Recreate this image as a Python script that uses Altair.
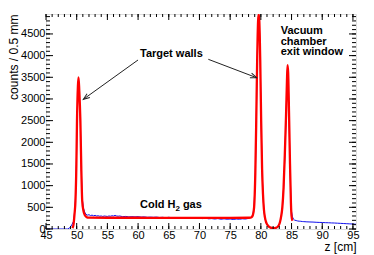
import altair as alt
import pandas as pd

# ---- measured histogram (blue) ----
blue_z = [45.0, 48.5, 48.75, 49.0, 49.25, 49.5, 49.65, 49.8, 49.95, 50.05, 50.2, 50.3, 50.42, 50.6, 50.75, 50.9,
          51.1, 51.3, 51.5, 51.75, 52.0, 52.25, 52.5, 52.75, 53.0, 53.25, 53.5, 53.75, 54.0, 54.25, 54.5, 54.75,
          55.0, 55.25, 55.5, 55.75, 56.0, 56.25, 56.5, 56.75, 57.0, 57.5, 58.0, 58.5, 59.0, 59.5, 60.0, 60.5,
          61.0, 61.5, 62.0, 62.5, 63.0, 63.5, 64.0, 64.5, 65.0, 65.5, 66.0, 66.5, 67.0, 67.5, 68.0, 68.5,
          69.0, 69.5, 70.0, 70.5, 71.0, 71.5, 72.0, 72.5, 73.0, 73.5, 74.0, 74.5, 75.0, 75.5, 76.0, 76.5,
          77.0, 77.5, 78.0, 78.3, 78.5, 78.7, 78.9, 79.1, 79.25, 79.4, 79.55, 79.65, 79.75, 79.9, 80.05, 80.2,
          80.35, 80.5, 80.65, 80.9, 81.2, 81.6, 82.0, 82.4, 82.8, 83.1, 83.3, 83.5, 83.7, 83.9, 84.1, 84.25,
          84.35, 84.45, 84.6, 84.75, 84.9, 85.0, 85.15, 85.3, 85.5, 85.75, 86.0, 86.25, 86.5, 86.75, 87.0, 87.5,
          88.0, 88.5, 89.0, 89.5, 90.0, 90.5, 91.0, 91.5, 92.0, 92.5, 93.0, 93.5, 94.0, 94.5, 95.0, 95.5]
blue_c = [0, 0, 15, 50, 110, 180, 380, 700, 1500, 2400, 3250, 3450, 3150, 2450, 1380, 700,
          480, 390, 340, 320, 330, 310, 320, 305, 315, 300, 305, 295, 300, 290, 300, 295,
          290, 300, 295, 305, 300, 315, 300, 295, 300, 285, 290, 280, 285, 280, 285, 275,
          280, 270, 275, 270, 275, 265, 270, 260, 270, 260, 265, 255, 265, 255, 260, 250,
          255, 245, 250, 240, 250, 235, 240, 230, 240, 225, 235, 225, 230, 220, 230, 225,
          235, 230, 245, 260, 280, 330, 520, 1250, 2450, 3850, 4750, 4920, 4780, 3850, 2450, 1350,
          780, 430, 260, 130, 60, 20, 10, 15, 50, 140, 270, 480, 930, 1650, 2550, 3350,
          3720, 3550, 2550, 1450, 650, 400, 280, 230, 205, 195, 185, 180, 178, 172, 170, 165,
          162, 160, 155, 152, 150, 146, 144, 140, 138, 134, 130, 126, 122, 118, 115, 110]

# ---- fit curve (red) ----
red_z = [49.3, 49.5, 49.65, 49.8, 49.95, 50.05, 50.2, 50.3, 50.42, 50.6, 50.75, 50.9, 51.1, 51.3, 51.5, 51.8,
         52.0, 55.0, 60.0, 65.0, 70.0, 75.0, 78.0, 78.3, 78.5, 78.7, 78.9, 79.1, 79.25, 79.4, 79.55, 79.65,
         79.75, 79.9, 80.05, 80.2, 80.35, 80.5, 80.65, 80.9, 81.2, 81.6, 82.0, 82.4, 82.8, 83.1, 83.3, 83.5,
         83.7, 83.9, 84.1, 84.25, 84.35, 84.45, 84.6, 84.75, 84.9, 85.0, 85.15]
red_c = [20, 120, 350, 650, 1500, 2500, 3300, 3500, 3200, 2500, 1400, 650, 420, 330, 290, 265,
         262, 260, 259, 258, 258, 258, 260, 263, 275, 320, 500, 1300, 2500, 3900, 4800, 4950,
         4800, 3900, 2500, 1400, 800, 450, 280, 140, 70, 30, 20, 25, 60, 150, 285, 500,
         950, 1700, 2600, 3400, 3780, 3600, 2600, 1500, 600, 300, 190]

# ---- axes ----
x_major = [45, 50, 55, 60, 65, 70, 75, 80, 85, 90, 95]
x_minor = list(range(45, 96))
y_major = [0, 500, 1000, 1500, 2000, 2500, 3000, 3500, 4000, 4500]
y_minor = list(range(0, 4901, 100))

# ---- annotations ----
notes_text = ["Target walls", "Vacuum", "chamber", "exit window", "Cold H"]
notes_z = [60.31, 83.23, 83.23, 83.23, 60.31]
notes_c = [3961, 4499, 4238, 4014, 496]

arrow_z = [59.99, 71.44]
arrow_c = [3899, 3915]
arrow_z2 = [51.08, 79.32]
arrow_c2 = [2992, 3490]
arrow_angle = [234.3, 110.8]

W, H = 310, 215
FONT = "Liberation Sans"

xs = alt.Scale(domain=[45, 95.5], nice=False, zero=False)
ys = alt.Scale(domain=[0, 4960], nice=False, zero=False)

x_axis = alt.Axis(values=x_major, format="d", title="z [cm]", grid=False, domain=False, ticks=False, tickSize=0,
                  labelPadding=0, labelFontSize=11, labelFont=FONT, labelColor="black",
                  labelFlush=False, labelOverlap=False,
                  titleFont=FONT, titleFontSize=12, titleFontWeight="normal", titleColor="black",
                  titleX=W, titleY=21.5, titleAlign="right", titleBaseline="alphabetic")
y_axis = alt.Axis(values=y_major, format="d", title="counts / 0.5 mm", grid=False, domain=False, ticks=False,
                  tickSize=0, labelPadding=1, labelFontSize=11, labelFont=FONT, labelColor="black",
                  labelFlush=False, labelOverlap=False,
                  titleFont=FONT, titleFontSize=12, titleFontWeight="normal", titleColor="black",
                  titleX=-29, titleY=0, titleAngle=270, titleAlign="right", titleBaseline="alphabetic")

X = lambda f="z": alt.X(f"{f}:Q", scale=xs, axis=x_axis)
Y = lambda f="c": alt.Y(f"{f}:Q", scale=ys, axis=y_axis)

blue_df = pd.DataFrame({"z": blue_z, "c": blue_c})
red_df = pd.DataFrame({"z": red_z, "c": red_c})

blue = alt.Chart(blue_df).mark_line(color="#1010ee", strokeWidth=1, clip=True).encode(x=X(), y=Y())
red = alt.Chart(red_df).mark_line(color="#ff0000", strokeWidth=2.3, interpolate="monotone", clip=True).encode(x=X(), y=Y())


def xticks(vals, a, b):
    return alt.Chart(pd.DataFrame({"z": vals})).mark_rule(color="black", strokeWidth=1).encode(
        x=X(), y=alt.value(a), y2=alt.value(b))


def yticks(vals, a, b):
    return alt.Chart(pd.DataFrame({"c": vals})).mark_rule(color="black", strokeWidth=1).encode(
        y=Y(), x=alt.value(a), x2=alt.value(b))


ticks = [
    xticks(x_major, H, H - 6), xticks(x_minor, H, H - 3),
    xticks(x_major, 0, 6), xticks(x_minor, 0, 3),
    yticks(y_major, 0, 7), yticks(y_minor, 0, 4),
    yticks(y_major, W, W - 7), yticks(y_minor, W, W - 4),
]

notes_df = pd.DataFrame({"t": notes_text, "z": notes_z, "c": notes_c})
notes = alt.Chart(notes_df).mark_text(font=FONT, fontSize=11, fontWeight="bold", align="left",
                                      baseline="alphabetic", color="black").encode(x=X(), y=Y(), text="t:N")
sub_df = pd.DataFrame({"t": ["2"], "z": [60.31], "c": [496]})
sub = alt.Chart(sub_df).mark_text(font=FONT, fontSize=8, fontWeight="bold", align="left",
                                  baseline="alphabetic", color="black", dx=35.4, dy=3).encode(x=X(), y=Y(), text="t:N")
gas_df = pd.DataFrame({"t": ["gas"], "z": [60.31], "c": [496]})
gas = alt.Chart(gas_df).mark_text(font=FONT, fontSize=11, fontWeight="bold", align="left",
                                  baseline="alphabetic", color="black", dx=42.9).encode(x=X(), y=Y(), text="t:N")

arrows_df = pd.DataFrame({"z": arrow_z, "c": arrow_c, "z2": arrow_z2, "c2": arrow_c2, "a": arrow_angle})
arrow_lines = alt.Chart(arrows_df).mark_rule(color="#222222", strokeWidth=1).encode(
    x=X(), y=Y(), x2="z2:Q", y2="c2:Q")
arrow_heads = alt.Chart(arrows_df).mark_point(shape="M-0.38,1L0,0L0.38,1", size=160, filled=False,
                                              color="#222222", strokeWidth=1, opacity=1).encode(
    x=X("z2"), y=Y("c2"), angle=alt.Angle("a:Q", scale=None))

chart = alt.layer(blue, red, *ticks, arrow_lines, arrow_heads, notes, sub, gas).properties(
    width=W, height=H,
    autosize=alt.AutoSizeParams(type="none"),
    padding={"left": 38, "top": 6, "right": 8, "bottom": 26},
).configure_view(stroke="black", strokeWidth=1).configure(font=FONT)

chart.save("out.html", embed_options={"renderer": "svg", "actions": False})
